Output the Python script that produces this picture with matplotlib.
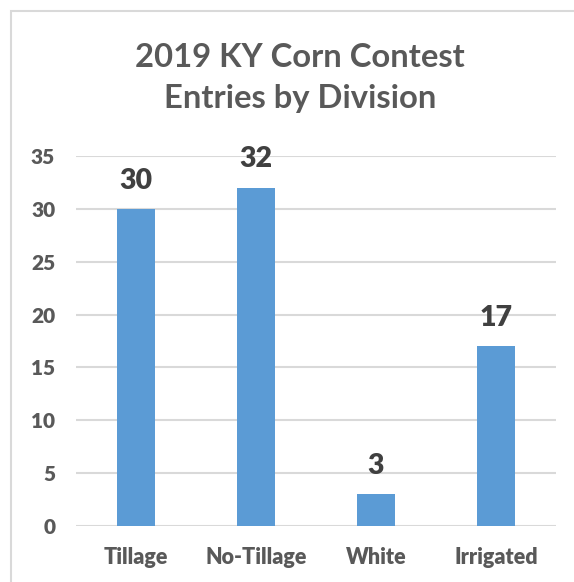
import matplotlib
matplotlib.use("Agg")
import matplotlib.pyplot as plt
from matplotlib.patches import Rectangle

categories = ["Tillage", "No-Tillage", "White", "Irrigated"]
entries = [30, 32, 3, 17]
yticks = [0, 5, 10, 15, 20, 25, 30, 35]
title = "2019 KY Corn Contest\nEntries by Division"

W, H = 574, 582
fig = plt.figure(figsize=(W / 100, H / 100), dpi=100)
plt.rcParams['font.family'] = ['Lato', 'DejaVu Sans']

# outer border
fig.patches.append(Rectangle((11 / W, -0.1), 2.0, 1 - 11 / H + 0.1, transform=fig.transFigure,
                             fill=False, edgecolor="#D9D9D9", linewidth=1.5, zorder=0))

left, right = 76 / W, 556 / W
bottom, top = 1 - 526 / H, 1 - 156 / H
ax = fig.add_axes([left, bottom, right - left, top - bottom])
gray = "#595959"
x = list(range(len(categories)))
bars = ax.bar(x, entries, width=0.32, color="#5B9BD5", zorder=2)
ax.set_xlim(-0.5, len(categories) - 0.5)
ax.set_ylim(0, 35)
ax.set_yticks(yticks)
ax.set_yticklabels([str(t) for t in yticks], fontsize=15, fontweight="heavy", color=gray)
ax.set_xticks(x)
ax.set_xticklabels(categories, fontsize=15.5, fontweight="heavy", color=gray)
ax.tick_params(axis="both", length=0)
ax.tick_params(axis="y", pad=15)
ax.tick_params(axis="x", pad=15)
ax.yaxis.grid(True, color="#D9D9D9", linewidth=1.5, zorder=0)
ax.set_axisbelow(True)
for s in ax.spines.values():
    s.set_visible(False)
for xi, v in zip(x, entries):
    ax.annotate(str(v), (xi, v), xytext=(0, 11), textcoords="offset points",
                ha="center", va="bottom", fontsize=20.5, fontweight="heavy", color="#404040")
fig.text(300 / W, 1 - 78 / H, title, ha="center", va="center",
         fontsize=23.6, fontweight="bold", color=gray, linespacing=1.46)
fig.savefig("out.png", dpi=100)
